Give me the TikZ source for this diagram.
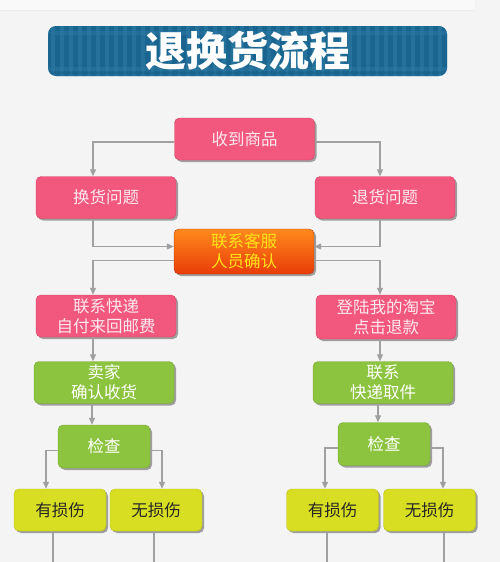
\documentclass[tikz,border=0pt]{standalone}
\usepackage{fontspec}
\newfontfamily\cjk{Noto Sans CJK SC}
\usetikzlibrary{arrows.meta,shadows,calc}
\definecolor{bg}{HTML}{F4F4F4}
\definecolor{titleblue}{HTML}{1A6590}
\definecolor{stripe}{HTML}{2F7DA6}
\definecolor{pinkbox}{HTML}{F2587D}
\definecolor{pinkedge}{HTML}{D94068}
\definecolor{pinktext}{HTML}{FFE8EF}
\definecolor{greenbox}{HTML}{8CC43F}
\definecolor{greenedge}{HTML}{74AA2C}
\definecolor{yellowbox}{HTML}{D8DE22}
\definecolor{yellowedge}{HTML}{B9BF10}
\definecolor{orangetop}{HTML}{FF8A1C}
\definecolor{orangebot}{HTML}{E83C08}
\definecolor{kefutext}{HTML}{FFE21A}
\definecolor{linegray}{HTML}{A0A0A0}
\tikzset{
  box/.style={rounded corners=5pt, minimum width=140pt, minimum height=42pt,
    inner sep=0pt, align=center, font=\cjk\fontsize{16.5}{20}\selectfont,
    drop shadow={shadow xshift=2pt, shadow yshift=-2pt, opacity=0.35, fill=black}},
  pinkb/.style={box, fill=pinkbox, draw=pinkedge, text=pinktext},
  greenb/.style={box, fill=greenbox, draw=greenedge, text=white},
  yellowb/.style={box, minimum width=92pt, fill=yellowbox, draw=yellowedge, text=black!85},
  orangeb/.style={box, minimum height=45pt, top color=orangetop, bottom color=orangebot, draw=orangebot!80!black, text=kefutext},
  arr/.style={draw=linegray, line width=1.2pt, -{Triangle[width=6pt,length=7pt]}},
  ln/.style={draw=linegray, line width=1.2pt}
}
\begin{document}
\begin{tikzpicture}[x=1pt,y=-1pt]
\useasboundingbox (0,0) rectangle (500,562);
\fill[bg] (0,0) rectangle (500,562);
\fill[white!50!bg] (0,0) rectangle (475,10);
\draw[black!8, line width=0.8pt] (0,10) -- (475,10);

% title
\node[rounded corners=8pt, minimum width=399pt, minimum height=50pt, inner sep=0pt,
  fill=titleblue, text=white, font=\cjk\bfseries\fontsize{41}{42}\selectfont,
  path picture={
    \foreach \i in {0,...,45}
      \fill[stripe, opacity=0.5] ([xshift=\i*9pt+3pt]path picture bounding box.south west) rectangle ++(4pt,60pt);
    \fill[stripe, opacity=0.4] ([yshift=-5pt]path picture bounding box.north west) rectangle ++(420pt,-4pt);
    \fill[stripe, opacity=0.4] ([yshift=5pt]path picture bounding box.south west) rectangle ++(420pt,4pt);
  }] (title) at (247.5,51) {退换货流程};

% boxes
\node[pinkb] (recv) at (244.5,139) {收到商品};
\node[pinkb] (huan) at (106,197.5) {换货问题};
\node[pinkb] (tui) at (385,197.5) {退货问题};
\node[orangeb] (kefu) at (244,251.5) {联系客服\\人员确认};
\node[pinkb] (kuaidi) at (106,316) {联系快递\\自付来回邮费};
\node[pinkb, minimum height=44pt] (taobao) at (386,317) {登陆我的淘宝\\点击退款};
\node[greenb] (maijia) at (104,382.5) {卖家\\确认收货};
\node[greenb] (quj) at (383,382.5) {联系\\快递取件};
\node[greenb, minimum width=92pt, minimum height=43pt] (jcL) at (104,446.5) {检查};
\node[greenb, minimum width=92pt, minimum height=43pt] (jcR) at (384,444) {检查};
\node[yellowb] (ysL) at (60,510) {有损伤};
\node[yellowb] (wsL) at (156,510) {无损伤};
\node[yellowb] (ysR) at (332.5,510) {有损伤};
\node[yellowb] (wsR) at (429.5,510) {无损伤};

% column coordinates
\coordinate (LX) at (93,0);
\coordinate (RX) at (380,0);

% connectors
\draw[arr] ([yshift=-3pt]recv.west) -| (huan.north -| LX);
\draw[arr] ([yshift=-3pt]recv.east) -| (tui.north -| RX);
\draw[arr] (huan.south -| LX) |- ([yshift=5pt]kefu.west);
\draw[arr] (tui.south -| RX) |- ([yshift=5pt]kefu.east);
\draw[arr] ([yshift=-9pt]kefu.west) -| (kuaidi.north -| LX);
\draw[arr] ([yshift=-9pt]kefu.east) -| (taobao.north -| RX);
\draw[arr] (kuaidi.south -| LX) -- (maijia.north -| LX);
\draw[arr] (taobao.south -| RX) -- (quj.north -| RX);
\draw[arr] (maijia.south -| {(92,0)}) -- (jcL.north -| {(92,0)});
\draw[arr] (quj.south -| {(378,0)}) -- (jcR.north -| {(378,0)});
\draw[arr] ([yshift=-4pt]jcL.west) -| (ysL.north -| {(46,0)});
\draw[arr] ([yshift=-4pt]jcL.east) -| (wsL.north -| {(162,0)});
\draw[arr] ([yshift=-4pt]jcR.west) -| (ysR.north -| {(325,0)});
\draw[arr] ([yshift=-4pt]jcR.east) -| (wsR.north -| {(443,0)});

% lines leaving the bottom
\coordinate (e1) at (53,562);
\coordinate (e2) at (154,562);
\coordinate (e3) at (327,562);
\coordinate (e4) at (444,562);
\draw[ln] (ysL.south -| e1) -- (e1);
\draw[ln] (wsL.south -| e2) -- (e2);
\draw[ln] (ysR.south -| e3) -- (e3);
\draw[ln] (wsR.south -| e4) -- (e4);
\end{tikzpicture}
\end{document}
